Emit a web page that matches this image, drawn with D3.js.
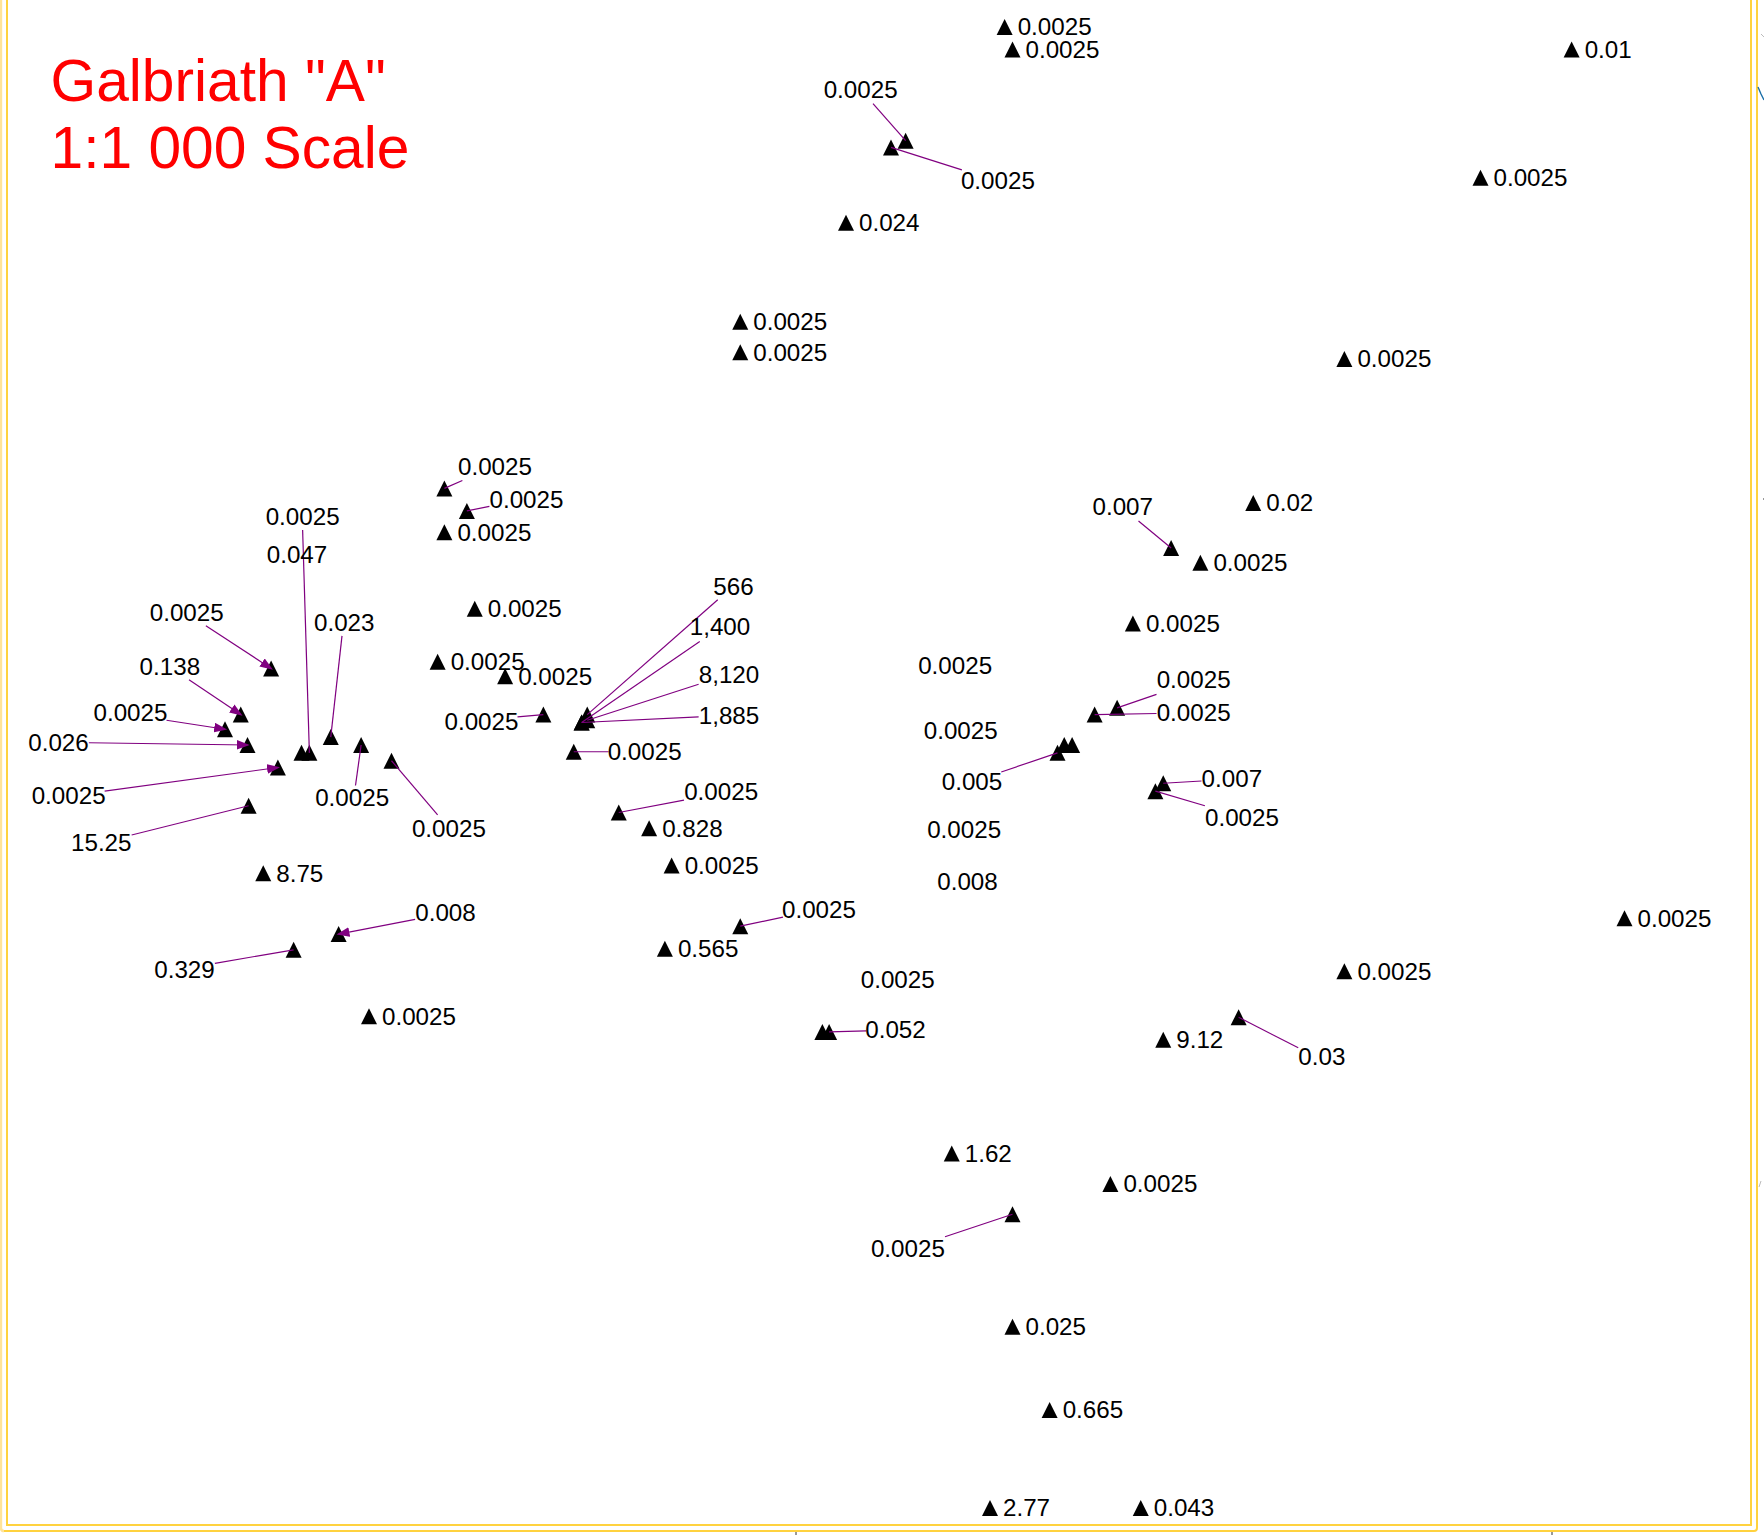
<!DOCTYPE html>
<html><head><meta charset="utf-8">
<style>html,body{margin:0;padding:0;background:#fff}svg{display:block}</style>
<script src="https://cdn.jsdelivr.net/npm/d3@7"></script></head>
<body><svg id="map" width="1764" height="1535"></svg>
<script>
// Sample locations in map units, each labelled right beside its marker
const directEast=[893,900,1397,1316,752,658,658,1195,1114,1067,1007,395,422,389,449,577,597,591,234,328,1444,1195,1034,846,987,900,933,880,1014];
const directNorth=[24,44,44,158,198,286,313,319,447,500,554,473,541,588,601,736,769,843,776,903,816,863,924,1025,1052,1179,1253,1340,1340];
const directAssay=["0.0025","0.0025","0.01","0.0025","0.024","0.0025","0.0025","0.0025","0.02","0.0025","0.0025","0.0025","0.0025","0.0025","0.0025","0.828","0.0025","0.565","8.75","0.0025","0.0025","0.0025","9.12","1.62","0.0025","0.025","0.665","2.77","0.043"];
// Samples joined to their assay label by a leader
const leaderEast=[805,792,1041,395,415,275,294,241,214,200,220,247,221,321,348,301,261,483,522,517,522,517,510,550,658,737,1101,900,993,973,940,1034,1027];
const leaderNorth=[125,131,487,434,454,669,655,594,635,648,662,682,716,662,676,830,844,635,635,642,640,642,668,722,823,917,904,1079,629,635,669,696,703];
const leaderAssay=["0.0025","0.0025","0.007","0.0025","0.0025","0.0025","0.023","0.0025","0.138","0.0025","0.026","0.0025","15.25","0.0025","0.0025","0.008","0.329","0.0025","566","1,400","8,120","1,885","0.0025","0.0025","0.0025","0.052","0.03","0.0025","0.0025","0.0025","0.005","0.007","0.0025"];
const leaderLabelEast=[765,887,998,440,468,269,306,166,151,116,52,61,90,313,399,396,164,428,652,640,648,648,573,641,728,796,1175,807,1061,1061,864,1095,1104];
const leaderLabelNorth=[79,160,450,414,444,459,553,544,592,633,660,707,749,709,736,811,861,641,521,557,599,636,668,703,808,915,939,1109,604,633,694,692,726];
const leaderStartEast=[776,855,1012,411,435,269,304,183,168,148,79,93,117,316,389,369,191,460,638,622,621,621,541,608,696,770,1154,840,1028,1028,890,1068,1071];
const leaderStartNorth=[92,151,463,427,450,471,565,556,604,640,660,703,742,698,724,817,856,637,533,570,608,637,668,711,815,916,931,1099,617,634,686,694,716];
const leaderArrow=[0,0,0,0,0,0,0,1,1,1,1,1,0,0,0,1,0,0,0,0,0,0,0,0,0,0,0,0,0,0,0,0,0];
// Samples whose label has drifted away from the marker
const looseEast=[268,946,953,731];
const looseNorth=[669,662,662,917];
const looseLabelEast=[264,849,854,857,860,798];
const looseLabelNorth=[493,591,649,737,783,870];
const looseLabelAssay=["0.047","0.0025","0.0025","0.0025","0.008","0.0025"];
const titleLines=['Galbriath "A"','1:1 000 Scale'];

const svg=d3.select("#map");
const x=d3.scaleLinear().domain([0,1568]).range([0,1764]);
const y=d3.scaleLinear().domain([0,1364]).range([0,1535]);
const FONT="'Liberation Sans',Arial,sans-serif";
const PURPLE="#800080";

// neatlines
const frame=svg.append("g").attr("fill","none").attr("stroke","#ffd23f");
frame.append("path").attr("stroke-width",2).attr("d","M7,-2V1525H1751V-2");
frame.append("path").attr("stroke-width",2).attr("d","M4,1531H1754Q1757,1531 1757,1528V-2");
svg.append("path").attr("fill","none").attr("stroke","#ffe39a").attr("stroke-width",2.4).attr("d","M1,-2V1528Q1,1531 4,1531");
// scraps of the neighbouring sheet showing at the edges
const scraps=svg.append("g").attr("fill","none");
scraps.append("path").attr("stroke","#1a6fa8").attr("stroke-width",1.4).attr("d","M1758,87L1761,94L1764,100");
scraps.append("path").attr("stroke","#bbb").attr("stroke-width",1).attr("d","M1761,34L1764,37M1759,1187L1761,1181");
scraps.append("path").attr("stroke","#333").attr("stroke-width",1).attr("d","M796,1532V1535M1552,1532V1535M1763,499H1764");

// markers
const triangleShape={draw(ctx,size){const r=Math.sqrt(size)/2;ctx.moveTo(0,-r);ctx.lineTo(r,r);ctx.lineTo(-r,r);ctx.closePath();}};
const tri=d3.symbol().type(triangleShape).size(16*16);

const defs=svg.append("defs");
defs.append("marker").attr("id","arrow").attr("viewBox","0 0 12 9").attr("refX",10).attr("refY",4.5)
  .attr("markerUnits","userSpaceOnUse").attr("markerWidth",13).attr("markerHeight",10).attr("orient","auto")
  .append("path").attr("d","M0,0L12,4.5L0,9Z").attr("fill",PURPLE);

const allEast=[...directEast,...leaderEast,...looseEast];
const allNorth=[...directNorth,...leaderNorth,...looseNorth];
svg.append("g").selectAll("path").data(d3.range(allEast.length)).join("path")
  .attr("d",tri).attr("fill","#000")
  .attr("transform",i=>`translate(${x(allEast[i])},${y(allNorth[i])})`);

// leaders
svg.append("g").attr("stroke",PURPLE).attr("stroke-width",1.2).attr("fill","none")
  .selectAll("line").data(d3.range(leaderEast.length)).join("line")
  .attr("x1",i=>x(leaderStartEast[i])).attr("y1",i=>y(leaderStartNorth[i]))
  .attr("x2",i=>x(leaderEast[i])).attr("y2",i=>y(leaderNorth[i]))
  .attr("marker-end",i=>leaderArrow[i]?"url(#arrow)":null);

// labels
const labels=svg.append("g").attr("font-family",FONT).attr("font-size",24.2).attr("fill","#000");
labels.selectAll("text.d").data(d3.range(directEast.length)).join("text").attr("class","d")
  .attr("x",i=>x(directEast[i])+13).attr("y",i=>y(directNorth[i])+8.4).text(i=>directAssay[i]);
labels.selectAll("text.l").data(d3.range(leaderEast.length)).join("text").attr("class","l")
  .attr("text-anchor","middle").attr("x",i=>x(leaderLabelEast[i])).attr("y",i=>y(leaderLabelNorth[i])+8.6).text(i=>leaderAssay[i]);
labels.selectAll("text.f").data(d3.range(looseLabelEast.length)).join("text").attr("class","f")
  .attr("text-anchor","middle").attr("x",i=>x(looseLabelEast[i])).attr("y",i=>y(looseLabelNorth[i])+8.6).text(i=>looseLabelAssay[i]);

// title
svg.append("g").attr("font-family",FONT).attr("font-size",58.7).attr("fill","#ff0000")
  .selectAll("text").data(titleLines).join("text")
  .attr("x",50.5).attr("y",(d,i)=>101+i*67).text(d=>d);
</script></body></html>
